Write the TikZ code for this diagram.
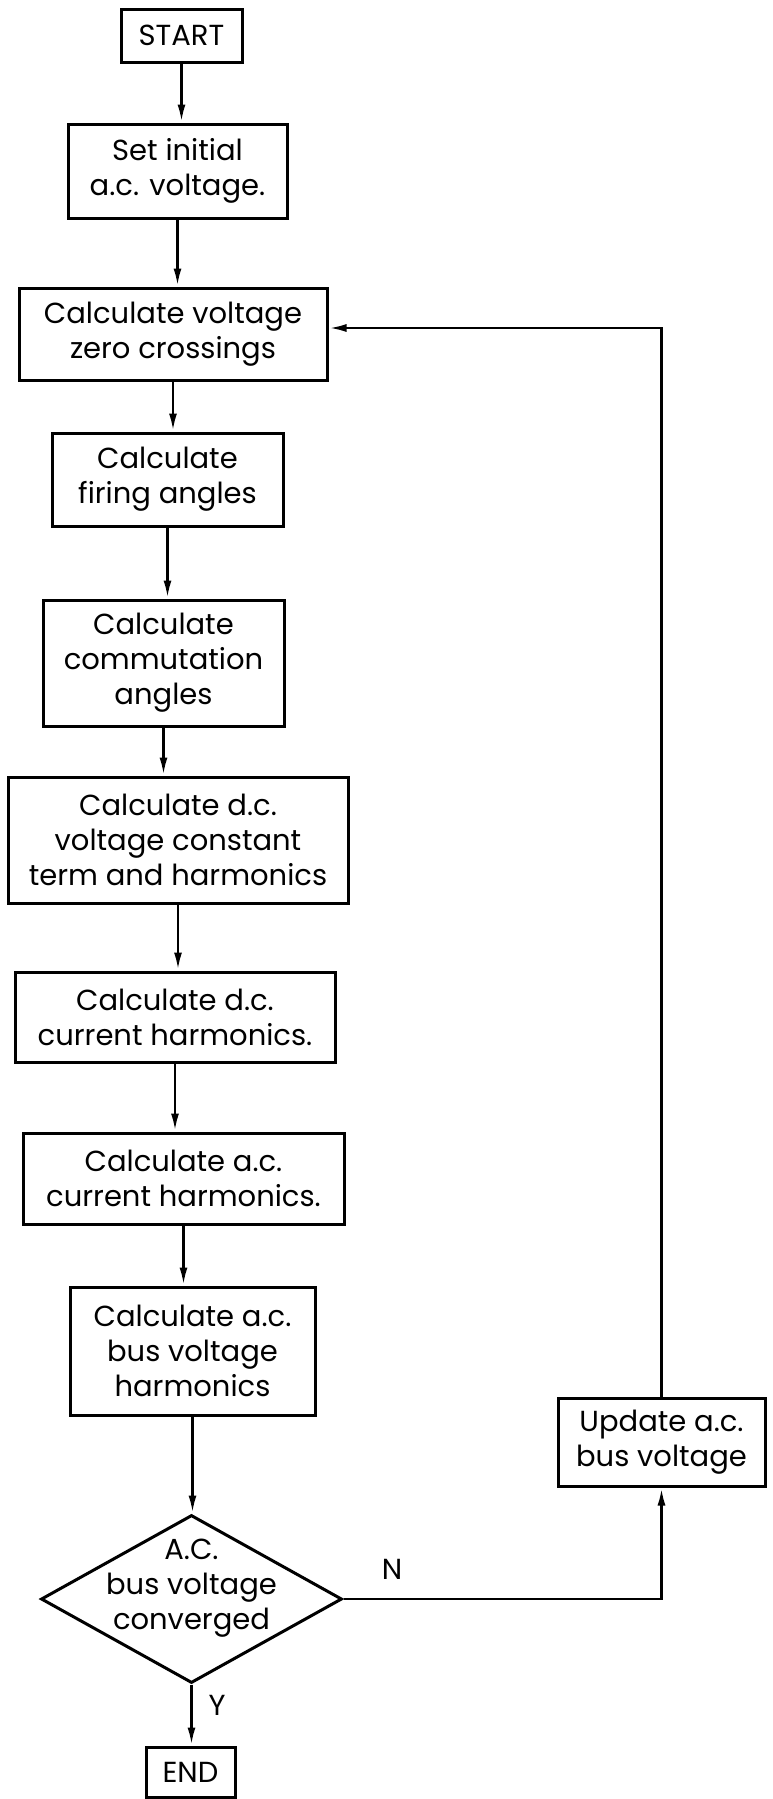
\documentclass[tikz,border=0pt]{standalone}
\usepackage{fontspec}
\setmainfont{Poppins}
\usetikzlibrary{shapes.geometric,arrows.meta}

% lettering used throughout the flow chart
\newcommand{\flowfont}{\fontsize{29}{35}\selectfont}

\begin{document}
\begin{tikzpicture}[x=1pt,y=-1pt,
  blk/.style 2 args={draw, line width=3pt, minimum width=#1, minimum height=#2,
    align=center, inner sep=0pt, font=\flowfont},
  dec/.style={draw, diamond, line width=3pt, minimum width=301pt, minimum height=168pt,
    inner sep=0pt},
  txt/.style={align=center, inner sep=0pt, font=\flowfont},
  arr/.style={line width=2.8pt, -{Latex[length=18pt,width=8pt]}}]

\useasboundingbox (0,0) rectangle (773,1799);

% main chain of steps
\node[blk={121pt}{53pt}]  (start)  at (181.5,35.5) {START};
\node[blk={219pt}{94pt}]  (init)   at (177.5,171)  {Set initial\\a.c. voltage.};
\node[blk={308pt}{92pt}]  (zero)   at (173,334)    {Calculate voltage\\zero crossings};
\node[blk={231pt}{93pt}]  (firing) at (167.5,479.5){Calculate\\firing angles};
\node[blk={241pt}{126pt}] (commut) at (163.5,663)  {Calculate\\commutation\\angles};
\node[blk={340pt}{126pt}] (dcv)    at (178,840)    {Calculate d.c.\\voltage constant\\term and harmonics};
\node[blk={320pt}{90pt}]  (dci)    at (175,1017)   {Calculate d.c.\\current harmonics.};
\node[blk={321pt}{91pt}]  (aci)    at (183.5,1178.5){Calculate a.c.\\current harmonics.};
\node[blk={245pt}{128pt}] (bus)    at (192.5,1351) {Calculate a.c.\\bus voltage\\harmonics};
\node[dec]                (conv)   at (191.5,1599) {};
\node[txt]                (convtx) at (191.5,1588) {A.C.\\bus voltage\\converged};
\node[blk={89pt}{50pt}]   (end)    at (190.5,1772) {END};

% correction step on the return path
\node[blk={207pt}{88pt}]  (upd)    at (661.5,1442) {Update a.c.\\bus voltage};

% downward flow
\draw[arr] (start.south)  -- (start.south  |- init.north);
\draw[arr] (init.south)   -- (init.south   |- zero.north);
\draw[arr] (zero.south)   -- (zero.south   |- firing.north);
\draw[arr] (firing.south) -- (firing.south |- commut.north);
\draw[arr] (commut.south) -- (commut.south |- dcv.north);
\draw[arr] (dcv.south)    -- (dcv.south    |- dci.north);
\draw[arr] (dci.south)    -- (dci.south    |- aci.north);
\draw[arr] (aci.south)    -- (aci.south    |- bus.north);
\draw[arr] (bus.south)    -- (bus.south    |- conv.north);
\draw[arr] (conv.south)   -- (conv.south   |- end.north);

% iteration loop
\coordinate (loopin) at ([yshift=6pt]zero.east);
\draw[arr] (conv.east) -| (upd.south);
\draw[arr] (upd.north) |- (loopin);

% branch labels
\node[txt] (nlab) at (392,1569) {N};
\node[txt] (ylab) at (217,1705) {Y};

\end{tikzpicture}
\end{document}
